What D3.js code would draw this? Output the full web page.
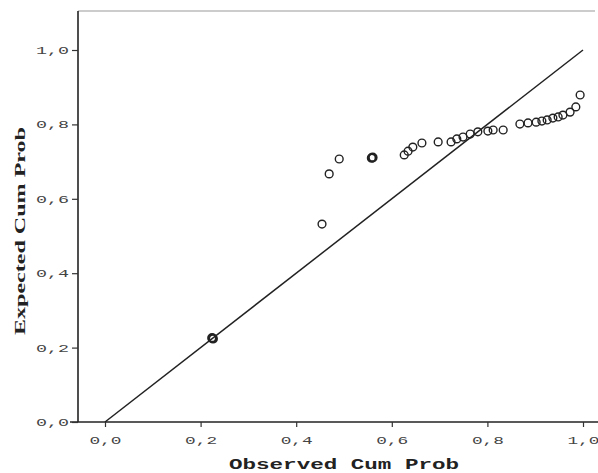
<!DOCTYPE html>
<html><head><meta charset="utf-8">
<script src="https://cdn.jsdelivr.net/npm/d3@7/dist/d3.min.js"></script>
<style>body{margin:0;background:#fff}svg{display:block}</style>
</head><body>
<script>
// Observed cumulative probabilities (x) and expected cumulative probabilities (y)
const observed = [0.224,0.226,0.454,0.469,0.490,0.558,0.560,0.626,0.634,0.644,0.663,0.697,0.724,0.736,0.749,0.764,0.780,0.801,0.812,0.833,0.868,0.885,0.902,0.914,0.925,0.937,0.948,0.958,0.973,0.985,0.994];
const expected = [0.226,0.224,0.532,0.667,0.707,0.710,0.711,0.718,0.728,0.739,0.750,0.753,0.753,0.761,0.766,0.774,0.780,0.782,0.785,0.785,0.801,0.804,0.806,0.809,0.812,0.817,0.820,0.825,0.833,0.847,0.879];
const bold = [1,1,0,0,0,1,1,0,0,0,0,0,0,0,0,0,0,0,0,0,0,0,0,0,0,0,0,0,0,0,0];
const tickValues = [0,0.2,0.4,0.6,0.8,1.0];
const tickLabels = ["0,0","0,2","0,4","0,6","0,8","1,0"];
const xTitle = "Observed Cum Prob";
const yTitle = "Expected Cum Prob";

const W = 598, H = 473;
const svg = d3.select("body").append("svg").attr("width", W).attr("height", H);
const x = d3.scaleLinear().domain([0,1]).range([105,583]);
const y = d3.scaleLinear().domain([0,1]).range([422,50]);
const axisX = 78; // left axis position

// frame lines
svg.append("line").attr("x1",axisX).attr("x2",595).attr("y1",11).attr("y2",11)
  .attr("stroke","#999").attr("stroke-width",1);
svg.append("line").attr("x1",axisX).attr("x2",axisX).attr("y1",11).attr("y2",y(0))
  .attr("stroke","#222").attr("stroke-width",1.6);
svg.append("line").attr("x1",70).attr("x2",598).attr("y1",y(0)).attr("y2",y(0))
  .attr("stroke","#222").attr("stroke-width",1.6);

// Y axis
const gy = svg.append("g").attr("transform",`translate(${axisX},0)`)
  .call(d3.axisLeft(y).tickValues(tickValues).tickSize(6).tickPadding(3)
    .tickFormat((d,i)=>tickLabels[i]));
gy.select(".domain").remove();
gy.selectAll(".tick line").attr("stroke","#333").attr("stroke-width",1.2);
gy.selectAll(".tick text").attr("font-family","Liberation Mono, monospace")
  .attr("font-size",11).attr("fill","#444")
  .attr("textLength",33).attr("lengthAdjust","spacingAndGlyphs");

// X axis
const gx = svg.append("g").attr("transform",`translate(0,${y(0)})`)
  .call(d3.axisBottom(x).tickValues(tickValues).tickSize(5).tickPadding(9)
    .tickFormat((d,i)=>tickLabels[i]));
gx.select(".domain").remove();
gx.selectAll(".tick line").attr("stroke","#333").attr("stroke-width",1.2);
gx.selectAll(".tick text").attr("font-family","Liberation Mono, monospace")
  .attr("font-size",11).attr("fill","#444")
  .attr("textLength",32).attr("lengthAdjust","spacingAndGlyphs");

// reference diagonal
svg.append("line")
  .attr("x1",x(0)).attr("y1",y(0)).attr("x2",x(1)).attr("y2",y(1))
  .attr("stroke","#222").attr("stroke-width",1.5);

// points
svg.append("g").selectAll("circle").data(observed.map((o,i)=>({o,e:expected[i],b:bold[i]})))
  .join("circle")
  .attr("cx",d=>x(d.o)).attr("cy",d=>y(d.e)).attr("r",3.9)
  .attr("fill","none").attr("stroke","#222")
  .attr("stroke-width",d=>d.b?2.1:1.4);

// titles
svg.append("text").attr("x",(x(0)+x(1))/2).attr("y",469)
  .attr("text-anchor","middle").attr("font-family","Liberation Mono, monospace")
  .attr("font-weight","bold").attr("font-size",14).attr("fill","#222")
  .attr("textLength",230).attr("lengthAdjust","spacingAndGlyphs")
  .text(xTitle);
svg.append("text").attr("transform","translate(25,231) rotate(-90)")
  .attr("text-anchor","middle").attr("font-family","Liberation Serif, serif")
  .attr("font-weight","bold").attr("font-size",15).attr("fill","#222")
  .attr("textLength",208).attr("lengthAdjust","spacingAndGlyphs")
  .text(yTitle);
</script>
</body></html>
